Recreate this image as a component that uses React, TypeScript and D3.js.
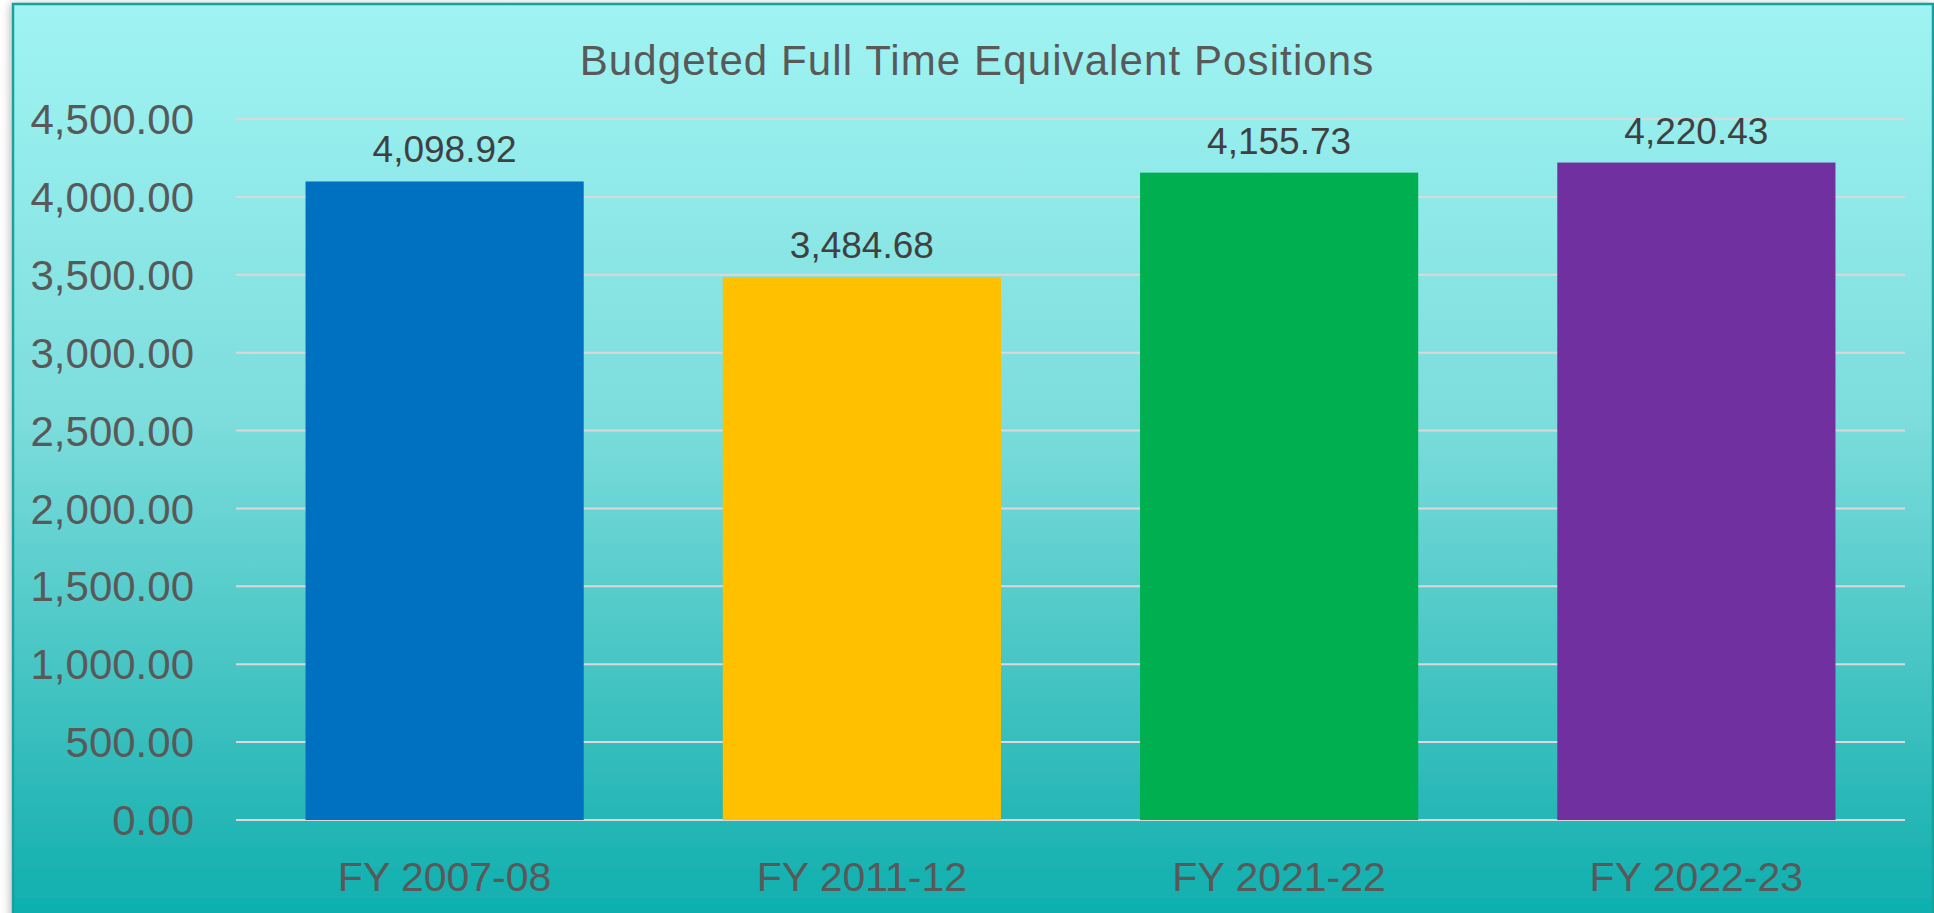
import React from "react";
import * as d3 from "d3";

const categories = ["FY 2007-08", "FY 2011-12", "FY 2021-22", "FY 2022-23"];
const values = [4098.92, 3484.68, 4155.73, 4220.43];
const barColors = ["#0070C0", "#FFC000", "#00B050", "#7030A0"];
const yTicks = [0, 500, 1000, 1500, 2000, 2500, 3000, 3500, 4000, 4500];
const title = "Budgeted Full Time Equivalent Positions";

const W = 1934;
const H = 913;
const FONT = "'Liberation Sans', Arial, sans-serif";

export default function App() {
  const plotLeft = 236;
  const plotRight = 1905;
  const yScale = d3.scaleLinear().domain([0, 4500]).range([820, 119]);
  const xScale = d3
    .scaleBand<string>()
    .domain(categories)
    .range([plotLeft, plotRight])
    .paddingInner(1 / 3)
    .paddingOuter(1 / 6);
  const fmt = d3.format(",.2f");

  return (
    <svg
      width={W}
      height={H}
      style={{ position: "absolute", left: 0, top: 0, display: "block" }}
    >
      <defs>
        <linearGradient id="bg" x1="0" y1="0" x2="0" y2="1">
          <stop offset="0" stopColor="#a0f4f3" />
          <stop offset="0.45" stopColor="#7cdddc" />
          <stop offset="0.9" stopColor="#22b5b4" />
          <stop offset="1" stopColor="#0aafae" />
        </linearGradient>
        <filter id="shadow" x="-5%" y="-5%" width="110%" height="110%">
          <feDropShadow dx="-2" dy="1" stdDeviation="4" floodColor="#000" floodOpacity="0.25" />
        </filter>
      </defs>
      <rect x={0} y={0} width={W} height={H} fill="#ffffff" />
      <rect
        x={13}
        y={4}
        width={W - 14}
        height={H + 10}
        fill="url(#bg)"
        stroke="#12a3a0"
        strokeWidth={2.5}
        filter="url(#shadow)"
      />
      <text
        x={977}
        y={75}
        textAnchor="middle"
        fill="#595959"
        fontFamily={FONT}
        fontSize={42}
        letterSpacing={1.1}
      >
        {title}
      </text>
      {yTicks.map((t) => (
        <g key={t}>
          <line
            x1={plotLeft}
            x2={plotRight}
            y1={yScale(t)}
            y2={yScale(t)}
            stroke="#d9d9d9"
            strokeWidth={2}
          />
          <text
            x={194}
            y={yScale(t)}
            dy="0.36em"
            textAnchor="end"
            fill="#595959"
            fontFamily={FONT}
            fontSize={42}
          >
            {fmt(t)}
          </text>
        </g>
      ))}
      {categories.map((c, i) => (
        <g key={c}>
          <rect
            x={xScale(c)}
            y={yScale(values[i])}
            width={xScale.bandwidth()}
            height={yScale(0) - yScale(values[i])}
            fill={barColors[i]}
          />
          <text
            x={(xScale(c) as number) + xScale.bandwidth() / 2}
            y={yScale(values[i]) - 19}
            textAnchor="middle"
            fill="#404040"
            fontFamily={FONT}
            fontSize={37}
          >
            {fmt(values[i])}
          </text>
          <text
            x={(xScale(c) as number) + xScale.bandwidth() / 2}
            y={891}
            textAnchor="middle"
            fill="#595959"
            fontFamily={FONT}
            fontSize={41}
          >
            {c}
          </text>
        </g>
      ))}
    </svg>
  );
}
